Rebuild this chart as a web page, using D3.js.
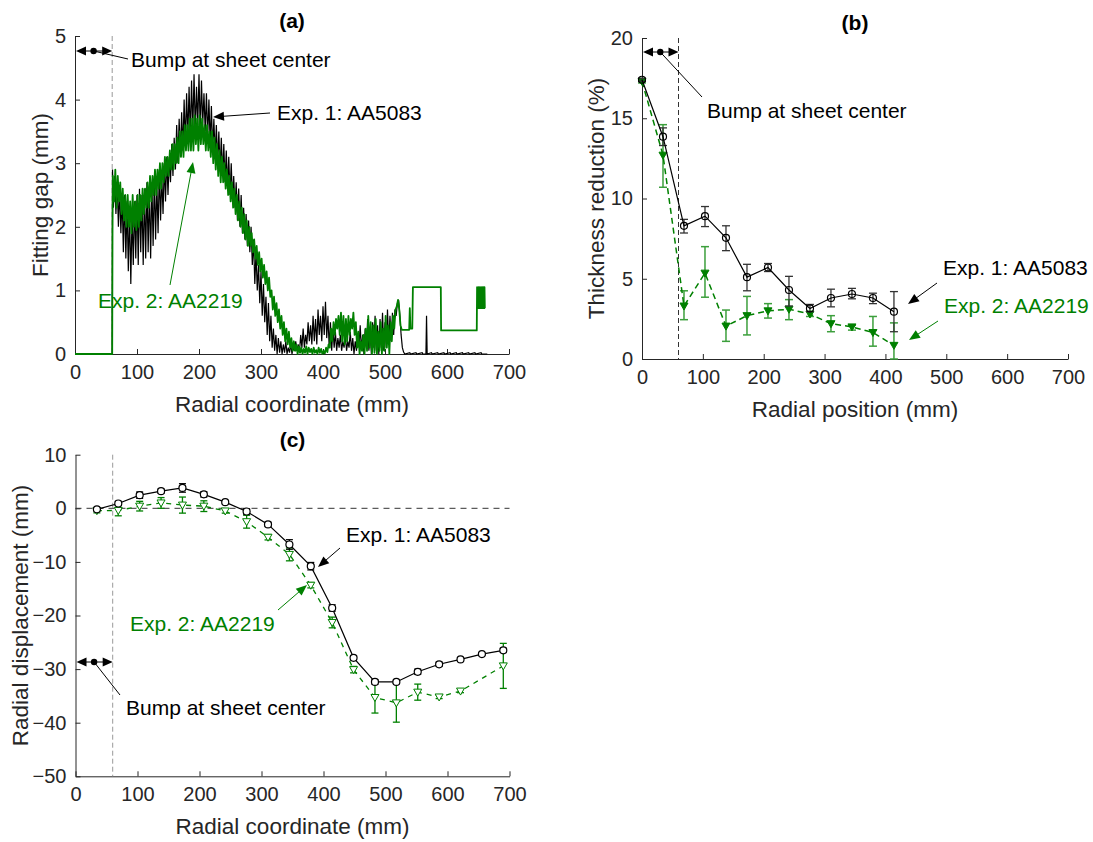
<!DOCTYPE html>
<html>
<head>
<meta charset="utf-8">
<script src="https://cdn.jsdelivr.net/npm/d3@7"></script>
<style>
body { margin: 0; background: #fff; }
svg { font-family: "Liberation Sans", Arial, sans-serif; }
</style>
</head>
<body>
<svg id="chart" width="1093" height="842"></svg>
<script>
// ---- panel (a): fitting gap, [radial mm, gap mm]
var gapExp1 = [[0,0],[60,0],[60.5,2.9],[62,2.3],[64,2.8],[66,2.2],[68,2.7],[70,2.0],[72,2.6],[74,1.9],[76,2.5],[78,1.6],[80,2.5],[82,1.5],[84,2.4],[86,1.3],[88,2.3],[90,1.1],[92,2.2],[94,1.4],[96,2.4],[98,1.5],[100,2.5],[102,1.4],[104,2.6],[106,1.6],[108,2.5],[110,1.4],[112,2.6],[114,1.5],[116,2.7],[118,1.6],[120,2.6],[122,1.5],[124,2.7],[126,1.7],[128,2.8],[130,1.8],[132,2.7],[134,1.9],[136,2.9],[138,2.1],[140,2.8],[142,2.2],[144,3.0],[146,2.4],[148,3.1],[150,2.5],[152,3.1],[154,2.7],[156,3.3],[158,2.8],[160,3.4],[162,2.9],[164,3.6],[166,3.0],[168,3.7],[170,3.1],[172,3.8],[174,3.2],[176,4.0],[178,3.3],[180,4.1],[182,3.4],[184,4.2],[186,3.4],[188,4.3],[190,3.5],[192,4.4],[194,3.5],[196,4.2],[198,3.6],[200,4.4],[202,3.5],[204,4.3],[206,3.6],[208,4.1],[210,3.5],[212,4.1],[214,3.4],[216,4.0],[218,3.3],[220,3.9],[222,3.2],[224,3.7],[226,3.1],[228,3.6],[230,3.0],[232,3.5],[234,2.9],[236,3.4],[238,2.8],[240,3.3],[242,2.7],[244,3.2],[246,2.6],[248,3.1],[250,2.5],[252,3.0],[254,2.4],[256,2.8],[258,2.3],[260,2.7],[262,2.1],[264,2.6],[266,2.0],[268,2.5],[270,1.9],[272,2.3],[274,1.8],[276,2.2],[278,1.7],[280,2.1],[282,1.6],[284,2.0],[286,1.4],[288,1.8],[290,1.1],[292,1.6],[294,1.0],[296,1.4],[298,0.8],[300,1.3],[302,0.6],[304,1.1],[306,0.5],[308,0.9],[310,0.3],[312,0.8],[314,0.2],[316,0.6],[318,0.1],[320,0.4],[322,0.05],[324,0.3],[326,0.0],[328,0.25],[330,0.02],[332,0.2],[334,0.0],[336,0.15],[338,0.02],[340,0.2],[342,0.0],[344,0.1],[346,0.02],[348,0.15],[350,0.0],[352,0.1],[354,0.05],[356,0.2],[358,0.05],[360,0.15],[362,0.02],[364,0.3],[366,0.1],[368,0.4],[370,0.1],[372,0.3],[374,0.15],[376,0.5],[378,0.2],[380,0.45],[382,0.15],[384,0.6],[386,0.2],[388,0.55],[390,0.15],[392,0.7],[394,0.3],[396,0.6],[398,0.2],[400,0.75],[402,0.3],[404,0.82],[406,0.25],[408,0.6],[410,0.1],[412,0.5],[414,0.05],[416,0.4],[418,0.1],[420,0.35],[422,0.05],[424,0.25],[426,0.1],[428,0.3],[430,0.05],[432,0.2],[434,0.1],[436,0.3],[438,0.05],[440,0.2],[442,0.1],[444,0.35],[446,0.05],[448,0.25],[450,0.0],[452,0.2],[454,0.05],[456,0.3],[458,0.1],[460,0.45],[462,0.05],[464,0.3],[466,0.0],[468,0.4],[470,0.1],[472,0.55],[474,0.05],[476,0.35],[478,0.0],[480,0.5],[482,0.1],[484,0.6],[486,0.05],[488,0.45],[490,0.0],[492,0.55],[494,0.1],[496,0.65],[498,0.05],[500,0.5],[502,0.1],[504,0.7],[506,0.15],[508,0.6],[510,0.2],[512,0.65],[514,0.3],[516,0.7],[518,0.6],[520,0.8],[522,0.85],[524,0.6],[526,0.3],[528,0.1],[530,0.03],[532,0],[540,0.02],[541,0],[550,0.02],[551,0],[560,0.02],[561,0],[566,0],[567,0.6],[568,0],[575,0.02],[576,0],[585,0.02],[586,0],[595,0.02],[596,0],[605,0.02],[606,0],[615,0.02],[616,0],[625,0.02],[626,0],[635,0.02],[636,0],[645,0.02],[646,0],[655,0.02],[656,0],[665,0]];

var gapExp2 = [[0,0],[60,0],[60.5,1.9],[61,2.8],[63,2.4],[65,2.9],[67,2.3],[69,2.8],[71,2.4],[73,2.7],[75,2.2],[77,2.6],[79,2.1],[81,2.5],[83,2.0],[85,2.5],[87,2.0],[89,2.4],[91,1.9],[93,2.5],[95,2.0],[97,2.4],[99,1.95],[101,2.5],[103,2.0],[105,2.5],[107,2.1],[109,2.6],[111,2.2],[113,2.6],[115,2.3],[117,2.7],[119,2.3],[121,2.8],[123,2.4],[125,2.8],[127,2.5],[129,2.9],[131,2.5],[133,2.9],[135,2.6],[137,3.0],[139,2.6],[141,3.0],[143,2.7],[145,3.1],[147,2.8],[149,3.1],[151,2.8],[153,3.2],[155,2.9],[157,3.3],[159,2.9],[161,3.3],[163,3.0],[165,3.4],[167,3.0],[169,3.5],[171,3.1],[173,3.5],[175,3.1],[177,3.6],[179,3.2],[181,3.6],[183,3.2],[185,3.7],[187,3.2],[189,3.7],[191,3.2],[193,3.75],[195,3.3],[197,3.7],[199,3.2],[201,3.75],[203,3.3],[205,3.7],[207,3.3],[209,3.6],[211,3.2],[213,3.6],[215,3.2],[217,3.5],[219,3.1],[221,3.5],[223,3.0],[225,3.4],[227,2.9],[229,3.3],[231,2.8],[233,3.2],[235,2.7],[237,3.1],[239,2.7],[241,3.0],[243,2.6],[245,2.9],[247,2.5],[249,2.8],[251,2.4],[253,2.7],[255,2.3],[257,2.6],[259,2.2],[261,2.5],[263,2.1],[265,2.4],[267,2.0],[269,2.3],[271,1.9],[273,2.2],[275,1.8],[277,2.1],[279,1.7],[281,2.0],[283,1.7],[285,1.9],[287,1.6],[289,1.8],[291,1.5],[293,1.7],[295,1.4],[297,1.6],[299,1.3],[301,1.5],[303,1.2],[305,1.4],[307,1.1],[309,1.3],[311,1.0],[313,1.2],[315,0.9],[317,1.0],[319,0.7],[321,0.9],[323,0.6],[325,0.8],[327,0.5],[329,0.7],[331,0.4],[333,0.6],[335,0.3],[337,0.5],[339,0.2],[341,0.4],[343,0.15],[345,0.35],[347,0.1],[349,0.25],[351,0.05],[353,0.2],[355,0.05],[357,0.15],[359,0.0],[361,0.12],[363,0.02],[365,0.1],[367,0.0],[369,0.08],[371,0.02],[373,0.12],[375,0.0],[377,0.1],[379,0.03],[381,0.08],[383,0.0],[385,0.1],[387,0.02],[389,0.06],[391,0.0],[393,0.1],[395,0.02],[397,0.08],[399,0.0],[401,0.05],[403,0.01],[405,0.1],[407,0.03],[409,0.15],[411,0.1],[413,0.4],[415,0.2],[417,0.5],[419,0.3],[421,0.55],[423,0.4],[425,0.6],[427,0.3],[429,0.65],[431,0.2],[433,0.6],[435,0.15],[437,0.55],[439,0.2],[441,0.6],[443,0.3],[445,0.55],[447,0.4],[449,0.65],[451,0.3],[453,0.5],[455,0.1],[457,0.35],[459,0.0],[461,0.2],[463,0.05],[465,0.3],[467,0.0],[469,0.4],[471,0.05],[473,0.6],[475,0.1],[477,0.5],[479,0.0],[481,0.45],[483,0.02],[485,0.55],[487,0.0],[489,0.35],[491,0.05],[493,0.5],[495,0.0],[497,0.4],[499,0.05],[501,0.6],[503,0.1],[505,0.45],[507,0.0],[509,0.5],[511,0.2],[513,0.6],[515,0.4],[517,0.7],[519,0.75],[521,0.85],[523,0.7],[525,0.45],[527,0.38],[535,0.38],[539,0.38],[540,0.72],[541,0.4],[544,0.4],[545,1.05],[590,1.05],[590.5,0.37],[648,0.37],[648.5,1.05],[650,0.72],[651,1.05],[652,0.72],[653,1.05],[654,0.72],[655,1.05],[656,0.72],[657,1.05],[658,0.72],[659,1.05],[660,0.72],[660.5,1.05],[661,0.72]];

// ---- panel (b): thickness reduction (%)
var posB = [0, 34.5, 69, 103.5, 138, 172.5, 207, 241.5, 276, 310.5, 345, 379.5, 414];
var thickExp1 = [17.4, 13.85, 8.3, 8.9, 7.55, 5.1, 5.7, 4.3, 3.15, 3.8, 4.05, 3.8, 2.95];
var thickExp1Lo = [17.3, 13.3, 7.85, 8.25, 6.75, 4.25, 5.45, 3.3, 2.95, 3.25, 3.75, 3.45, 1.7];
var thickExp1Hi = [17.5, 14.4, 8.7, 9.5, 8.3, 5.9, 5.95, 5.15, 3.4, 4.35, 4.4, 4.1, 4.2];
var thickExp2 = [17.3, 12.7, 3.3, 5.35, 2.05, 2.7, 3.0, 3.1, 2.8, 2.2, 2.0, 1.65, 0.85];
var thickExp2Lo = [17.2, 10.7, 2.45, 3.85, 1.1, 1.5, 2.55, 2.45, 2.65, 1.7, 1.8, 0.8, 0];
var thickExp2Hi = [17.4, 14.6, 4.25, 7.0, 3.05, 3.9, 3.45, 3.7, 2.95, 2.7, 2.1, 2.65, 2.25];

// ---- panel (c): radial displacement (mm)
var posC = [34.5, 69, 103.5, 138, 172.5, 207, 241.5, 276, 310.5, 345, 379.5, 414, 448.5, 483, 517.5, 552, 586.5, 621, 655.5, 690];
var dispExp1 = [-0.2, 0.9, 2.45, 3.2, 3.8, 2.6, 1.15, -0.6, -3.0, -6.75, -10.8, -18.6, -27.9, -32.4, -32.4, -30.5, -29.1, -28.2, -27.2, -26.5];
var dispExp1Err = [0.3, 0.4, 0.6, 0.4, 0.8, 0.5, 0.3, 0.5, 0.4, 0.9, 0.7, 0.6, 0.4, 0.4, 0.3, 0.5, 0.4, 0.3, 0.2, 0.4];
var posC2 = [34.5, 69, 103.5, 138, 172.5, 207, 241.5, 276, 310.5, 345, 379.5, 414, 448.5, 483, 517.5, 552, 586.5, 621, 690];
var dispExp2 = [-0.45, -0.4, 0.4, 1.0, 0.6, 0.4, -0.5, -2.5, -5.4, -8.6, -14.35, -21.3, -30.1, -35.3, -36.3, -34.3, -35.2, -34.1, -29.4];
var dispExp2Err = [0.4, 1.0, 0.9, 1.0, 1.5, 1.0, 0.4, 1.2, 0.5, 1.2, 0.5, 1.0, 0.6, 2.9, 3.6, 1.5, 0.3, 0.3, 4.2];

var xTicks = [0, 100, 200, 300, 400, 500, 600, 700];
var yTicksA = [0, 1, 2, 3, 4, 5];
var yTicksB = [0, 5, 10, 15, 20];
var yTicksC = [-50, -40, -30, -20, -10, 0, 10];

var GREEN = "#008000", GREEN_ERR = "#3c9f3c", AXC = "#262626";
var FS_TICK = 20, FS_LAB = 22.5, FS_ANN = 21;
var svg = d3.select("#chart");

function makeAxes(x, y, xt, yt, title, xlab, ylab, ylabX) {
	var g = svg.append("g");
	var x0 = x.range()[0], x1 = x.range()[1];
	var y0 = y.range()[0], y1 = y.range()[1];
	var ax = d3.axisBottom(x).tickValues(xt).tickFormat(d3.format("d")).tickSize(-5).tickPadding(11).tickSizeOuter(0);
	g.append("g").attr("transform", "translate(0," + y0 + ")").call(ax);
	var ay = d3.axisLeft(y).tickValues(yt).tickFormat(d3.format("d")).tickSize(-5).tickPadding(9).tickSizeOuter(0);
	g.append("g").attr("transform", "translate(" + x0 + ",0)").call(ay);
	g.selectAll(".domain").attr("stroke", AXC).attr("stroke-width", 1);
	g.selectAll(".tick line").attr("stroke", AXC);
	g.selectAll(".tick text").attr("fill", AXC).attr("font-size", FS_TICK).attr("font-family", "Liberation Sans, Arial, sans-serif");
	g.append("text").attr("x", (x0 + x1) / 2).attr("y", y1 - 8).attr("text-anchor", "middle")
		.attr("font-weight", "bold").attr("font-size", 21).attr("fill", "#000").text(title);
	g.append("text").attr("x", (x0 + x1) / 2).attr("y", y0 + 58).attr("text-anchor", "middle")
		.attr("font-size", FS_LAB).attr("fill", AXC).text(xlab);
	g.append("text").attr("transform", "translate(" + ylabX + "," + (y0 + y1) / 2 + ") rotate(-90)")
		.attr("text-anchor", "middle").attr("font-size", FS_LAB).attr("fill", AXC).text(ylab);
	return g;
}

function arrow(g, xa, ya, xb, yb, color, head) {
	head = head || 11;
	var ang = Math.atan2(yb - ya, xb - xa);
	var w = 4.5;
	g.append("line").attr("x1", xa).attr("y1", ya)
		.attr("x2", xb - Math.cos(ang) * head * 0.8).attr("y2", yb - Math.sin(ang) * head * 0.8)
		.attr("stroke", color).attr("stroke-width", 1);
	var bx = xb - Math.cos(ang) * head, by = yb - Math.sin(ang) * head;
	var px = -Math.sin(ang) * w, py = Math.cos(ang) * w;
	g.append("path").attr("d", "M" + xb + "," + yb + "L" + (bx + px) + "," + (by + py) + "L" + (bx - px) + "," + (by - py) + "Z")
		.attr("fill", color);
}

function note(g, x, y, color, txt) {
	g.append("text").attr("x", x).attr("y", y).attr("font-size", FS_ANN).attr("fill", color).text(txt);
}

function bump(g, x, yPix, textX, textY, lineEnd) {
	var xa = x(0), xb = x(60), xm = x(30);
	arrow(g, xm, yPix, xa + 1, yPix, "#000", 10);
	arrow(g, xm, yPix, xb, yPix, "#000", 10);
	g.append("circle").attr("cx", xm).attr("cy", yPix).attr("r", 3.2).attr("fill", "#000");
	g.append("line").attr("x1", xm).attr("y1", yPix).attr("x2", lineEnd[0]).attr("y2", lineEnd[1])
		.attr("stroke", "#000").attr("stroke-width", 1);
	note(g, textX, textY, "#000", "Bump at sheet center");
}

// ================= (a)
var xA = d3.scaleLinear().domain([0, 700]).range([75, 509]);
var yA = d3.scaleLinear().domain([0, 5]).range([354, 36]);
var gA = makeAxes(xA, yA, xTicks, yTicksA, "(a)", "Radial coordinate (mm)", "Fitting gap (mm)", 48);
gA.append("line").attr("x1", xA(60)).attr("x2", xA(60)).attr("y1", yA(5)).attr("y2", yA(0))
	.attr("stroke", "#999").attr("stroke-dasharray", "5,3");
var lineA = d3.line().x(d => xA(d[0])).y(d => yA(d[1]));
gA.append("path").datum(gapExp1).attr("d", lineA).attr("fill", "none").attr("stroke", "#000").attr("stroke-width", 1.2);
gA.append("path").datum(gapExp2).attr("d", lineA).attr("fill", "none").attr("stroke", GREEN).attr("stroke-width", 1.8).attr("stroke-linejoin", "round");
bump(gA, xA, 51, 131, 67, [128, 59]);
arrow(gA, 270, 113, 213, 117, "#000");
note(gA, 277, 120, "#000", "Exp. 1: AA5083");
arrow(gA, 170, 285, 193, 162, GREEN);
note(gA, 98, 308, GREEN, "Exp. 2: AA2219");

// ================= (b)
var xB = d3.scaleLinear().domain([0, 700]).range([642, 1068]);
var yB = d3.scaleLinear().domain([0, 20]).range([359, 38]);
var gB = makeAxes(xB, yB, xTicks, yTicksB, "(b)", "Radial position (mm)", "Thickness reduction (%)", 604);
gB.append("line").attr("x1", xB(60)).attr("x2", xB(60)).attr("y1", yB(20)).attr("y2", yB(0))
	.attr("stroke", "#333").attr("stroke-dasharray", "5,3");

function errBars(g, xs, lo, hi, x, y, color, cap, sw) {
	xs.forEach(function (v, i) {
		var cx = x(v);
		g.append("line").attr("x1", cx).attr("x2", cx).attr("y1", y(lo[i])).attr("y2", y(hi[i])).attr("stroke", color).attr("stroke-width", sw);
		[lo[i], hi[i]].forEach(function (e) {
			g.append("line").attr("x1", cx - cap).attr("x2", cx + cap).attr("y1", y(e)).attr("y2", y(e)).attr("stroke", color).attr("stroke-width", sw);
		});
	});
}
function triangle(g, cx, cy, s, fill, stroke) {
	g.append("path").attr("d", "M" + (cx - s) + "," + (cy - s * 0.75) + "L" + (cx + s) + "," + (cy - s * 0.75) + "L" + cx + "," + (cy + s) + "Z")
		.attr("fill", fill).attr("stroke", stroke).attr("stroke-width", 1);
}

var lineB2 = d3.line().x((d, i) => xB(posB[i])).y(d => yB(d));
errBars(gB, posB, thickExp2Lo, thickExp2Hi, xB, yB, GREEN_ERR, 4, 1.5);
gB.append("path").datum(thickExp2).attr("d", lineB2).attr("fill", "none").attr("stroke", GREEN).attr("stroke-width", 1.5).attr("stroke-dasharray", "6,4");
thickExp2.forEach((v, i) => triangle(gB, xB(posB[i]), yB(v), 4, GREEN, GREEN));
errBars(gB, posB, thickExp1Lo, thickExp1Hi, xB, yB, "#333", 4, 1.3);
gB.append("path").datum(thickExp1).attr("d", lineB2).attr("fill", "none").attr("stroke", "#000").attr("stroke-width", 1.2);
thickExp1.forEach((v, i) => gB.append("circle").attr("cx", xB(posB[i])).attr("cy", yB(v)).attr("r", 3.5).attr("fill", "none").attr("stroke", "#000").attr("stroke-width", 1.2));

bump(gB, xB, 52, 707, 118, [702, 97]);
arrow(gB, 937, 283, 908, 304, "#000");
note(gB, 943, 275, "#000", "Exp. 1: AA5083");
arrow(gB, 938, 321, 909, 340, GREEN);
note(gB, 944, 313, GREEN, "Exp. 2: AA2219");

// ================= (c)
var xC = d3.scaleLinear().domain([0, 700]).range([75.5, 509.5]);
var yC = d3.scaleLinear().domain([-50, 10]).range([776.3, 454.7]);
var gC = makeAxes(xC, yC, xTicks, yTicksC, "(c)", "Radial coordinate (mm)", "Radial displacement (mm)", 28);
gC.append("line").attr("x1", xC(60)).attr("x2", xC(60)).attr("y1", yC(10)).attr("y2", yC(-50))
	.attr("stroke", "#999").attr("stroke-dasharray", "5,3");
gC.append("line").attr("x1", xC(0)).attr("x2", xC(700)).attr("y1", yC(0)).attr("y2", yC(0))
	.attr("stroke", "#333").attr("stroke-dasharray", "6,5");

var lineC1 = d3.line().x((d, i) => xC(posC[i])).y(d => yC(d));
var lineC2 = d3.line().x((d, i) => xC(posC2[i])).y(d => yC(d));
errBars(gC, posC2, dispExp2.map((v, i) => v - dispExp2Err[i]), dispExp2.map((v, i) => v + dispExp2Err[i]), xC, yC, GREEN, 3.5, 1.3);
gC.append("path").datum(dispExp2).attr("d", lineC2).attr("fill", "none").attr("stroke", GREEN).attr("stroke-width", 1.3).attr("stroke-dasharray", "5,5");
dispExp2.forEach((v, i) => triangle(gC, xC(posC2[i]), yC(v), 4, "#fff", GREEN));
errBars(gC, posC, dispExp1.map((v, i) => v - dispExp1Err[i]), dispExp1.map((v, i) => v + dispExp1Err[i]), xC, yC, "#000", 3.5, 1.2);
gC.append("path").datum(dispExp1).attr("d", lineC1).attr("fill", "none").attr("stroke", "#000").attr("stroke-width", 1.2);
dispExp1.forEach((v, i) => gC.append("circle").attr("cx", xC(posC[i])).attr("cy", yC(v)).attr("r", 3.5).attr("fill", "#fff").attr("stroke", "#000").attr("stroke-width", 1.2));

bump(gC, xC, 662, 126, 715, [120, 695]);
arrow(gC, 340, 548, 318, 567, "#000");
note(gC, 346, 542, "#000", "Exp. 1: AA5083");
arrow(gC, 278, 610, 307, 585, GREEN);
note(gC, 130, 631, GREEN, "Exp. 2: AA2219");
</script>
</body>
</html>
